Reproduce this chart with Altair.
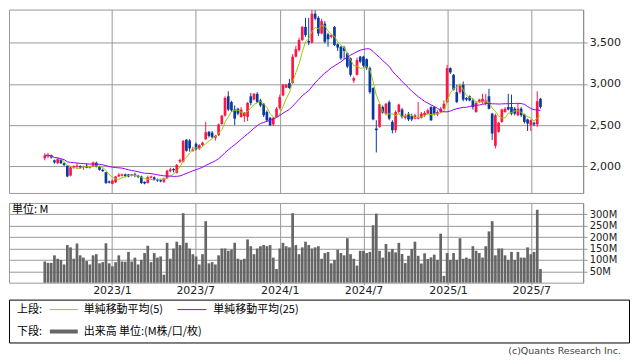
import altair as alt
import pandas as pd

# ---------------- data (weekly candles) ----------------
first_week = "2022-08-08"

opens = [2100,2120,2140,2075,2040,2085,2040,2010,1890,1985,
         1995,2005,1990,2010,1985,2000,2045,2000,1960,1930,
         1820,1790,1810,1880,1890,1905,1905,1890,1905,1890,
         1880,1815,1800,1865,1870,1845,1835,1815,1860,1945,
         1970,1925,2060,2060,2325,2315,2190,2275,2215,2260,
         2330,2420,2410,2345,2380,2515,2615,2850,2780,2690,
         2700,2600,2610,2600,2850,2810,2880,2800,2760,2660,
         2590,2510,2600,2710,2860,2955,3010,3010,3330,3410,
         3530,3690,3520,3500,3850,3800,3610,3730,3600,3570,
         3690,3480,3450,3440,3370,3310,3040,3110,3330,3330,
         3300,3190,2950,2460,2480,2720,2640,2780,2540,2440,
         2660,2690,2590,2640,2610,2580,2580,2590,2620,2640,
         2720,2720,2630,2660,2700,2780,3190,3110,2900,2900,
         2990,2830,2850,2800,2660,2780,2780,2760,2850,2640,
         2250,2420,2540,2660,2720,2720,2700,2620,2700,2630,
         2570,2500,2530,2510,2820]

closes = [2135,2140,2110,2050,2090,2040,2020,1880,1990,2005,
          2010,1990,2000,1985,2000,2050,2000,1960,1945,1800,
          1805,1830,1880,1900,1905,1885,1880,1905,1885,1875,
          1800,1795,1870,1880,1840,1830,1820,1855,1950,1965,
          1955,2020,2080,2310,2190,2220,2210,2210,2260,2290,
          2415,2370,2355,2370,2510,2615,2830,2690,2680,2580,
          2640,2690,2650,2770,2770,2880,2780,2740,2620,2560,
          2500,2590,2700,2840,2990,2990,2950,3330,3420,3530,
          3690,3590,3500,3850,3790,3610,3760,3510,3540,3590,
          3470,3440,3310,3400,3210,3110,3070,3290,3270,3220,
          3190,2900,2570,2440,2755,2650,2760,2580,2440,2660,
          2750,2600,2610,2570,2570,2620,2600,2640,2650,2680,
          2560,2640,2660,2700,2760,3190,3140,2930,2780,2980,
          2810,2810,2800,2720,2770,2810,2820,2800,2700,2400,
          2620,2530,2690,2700,2690,2640,2640,2700,2620,2540,
          2520,2560,2510,2790,2720]

highs = [2160,2165,2145,2085,2100,2090,2050,2015,2000,2015,
         2040,2015,2010,2040,2010,2060,2060,2010,1975,1935,
         1830,1840,1885,1920,1915,1915,1910,1910,1925,1900,
         1890,1820,1890,1890,1880,1855,1845,1865,1960,1985,
         1980,2030,2095,2320,2330,2330,2240,2290,2270,2300,
         2540,2430,2430,2385,2520,2625,2850,2910,2795,2740,
         2710,2720,2660,2780,2890,2890,2900,2820,2770,2680,
         2600,2600,2720,2870,3000,3000,3060,3360,3460,3560,
         3700,3800,3800,3895,3890,3820,3790,3760,3620,3600,
         3700,3490,3460,3460,3380,3320,3090,3320,3340,3340,
         3310,3210,2960,2560,2760,2740,2770,2800,2560,2680,
         2760,2710,2640,2660,2640,2640,2780,2660,2670,2700,
         2730,2730,2680,2720,2800,3230,3200,3120,2990,2990,
         3030,2840,2860,2830,2790,2820,2880,2880,2940,2650,
         2640,2540,2700,2720,2880,2870,2720,2760,2720,2640,
         2580,2570,2540,2910,2830]

lows = [2075,2105,2095,2035,2030,2030,2005,1870,1880,1975,
        1970,1975,1960,1980,1975,1995,1990,1950,1935,1790,
        1795,1785,1800,1870,1880,1870,1870,1880,1870,1860,
        1790,1785,1795,1855,1830,1815,1810,1800,1850,1930,
        1930,1915,2040,2050,2180,2180,2180,2195,2200,2250,
        2320,2350,2340,2315,2370,2505,2605,2670,2660,2500,
        2620,2590,2540,2550,2740,2800,2770,2720,2600,2540,
        2490,2490,2590,2690,2850,2950,2940,3000,3320,3390,
        3520,3570,3470,3490,3770,3580,3600,3490,3450,3550,
        3460,3400,3290,3300,3190,3090,3010,3100,3250,3200,
        3170,2880,2560,2170,2470,2640,2620,2560,2400,2410,
        2640,2580,2570,2550,2550,2570,2570,2580,2600,2630,
        2550,2620,2610,2650,2690,2770,3120,2920,2770,2880,
        2790,2790,2790,2690,2650,2770,2760,2740,2690,2320,
        2220,2410,2530,2650,2680,2620,2620,2610,2600,2520,
        2430,2430,2490,2480,2700]

volumes = [93,87,87,120,105,100,80,165,155,105,
           172,120,110,95,80,120,125,85,90,173,
           85,72,90,120,93,92,135,93,110,80,
           100,130,162,90,130,110,115,35,175,105,
           150,180,165,305,175,150,125,115,80,125,
           270,85,90,80,120,150,150,140,145,175,
           105,100,105,190,160,125,150,160,165,160,
           165,110,60,150,175,160,155,305,165,125,
           155,180,165,150,155,160,105,130,135,85,
           100,145,130,120,195,125,105,75,140,140,
           130,135,252,303,140,110,170,136,148,133,
           175,126,86,118,148,180,118,84,129,104,
           111,123,100,215,30,130,100,130,100,195,
           105,110,105,160,140,130,110,160,225,270,
           120,150,150,120,100,135,100,135,110,110,
           155,125,135,320,60]

price_ticks = [2000, 2500, 3000, 3500]
volume_ticks = [50, 100, 150, 200, 250, 300]
month_lines = [(2023, 1), (2023, 7), (2024, 1), (2024, 7), (2025, 1), (2025, 7)]

legend_top = ["上段:", "単純移動平均(5)", "単純移動平均(25)"]
legend_bottom = ["下段:", "出来高 単位:(M株/口/枚)"]
unit_label = "単位: M"
copyright_label = "(c)Quants Research Inc."

# ---------------- build ----------------
dates = pd.date_range(first_week, periods=len(closes), freq="7D")
df = pd.DataFrame({"date": dates, "open": opens, "high": highs, "low": lows,
                   "close": closes, "volume": volumes})
df["dir"] = ["up" if c >= o else "down" for o, c in zip(opens, closes)]

RED = "#ff1744"
BLUE = "#0a3a9e"
GREEN = "#99cc00"
PURPLE = "#9900ff"
GRID = "#999999"
LATIN = "DejaVu Sans"
JP = "Noto Sans CJK JP"

grid_vals = [alt.DateTime(year=y, month=m, date=1) for y, m in month_lines]
xscale = alt.Scale(domain=[alt.DateTime(year=2022, month=6, date=2),
                           alt.DateTime(year=2025, month=10, date=11)])
yscale = alt.Scale(domain=[1680, 3900], zero=False, nice=False)
color = alt.Color("dir:N", scale=alt.Scale(domain=["up", "down"], range=[RED, BLUE]), legend=None)

x_top = alt.X("date:T", scale=xscale, title=None,
              axis=alt.Axis(values=grid_vals, labels=False, ticks=False, domain=False, grid=True))

base = alt.Chart(df).encode(x=x_top)

wick = base.mark_rule(strokeWidth=1).encode(
    y=alt.Y("low:Q", scale=yscale, title=None,
            axis=alt.Axis(orient="right", values=price_ticks, format=",.0f", grid=True,
                          tickSize=4, labelPadding=2)),
    y2="high:Q", color=color)
body = base.mark_bar(size=2.7).encode(y=alt.Y("open:Q", scale=yscale, title=None),
                                      y2="close:Q", color=color)
ma5 = base.transform_window(ma5="mean(close)", frame=[-4, 0], sort=[alt.SortField("date")]) \
    .mark_line(color=GREEN, strokeWidth=1).encode(y=alt.Y("ma5:Q", scale=yscale, title=None))
ma25 = base.transform_window(ma25="mean(close)", frame=[-24, 0], sort=[alt.SortField("date")]) \
    .mark_line(color=PURPLE, strokeWidth=1).encode(y=alt.Y("ma25:Q", scale=yscale, title=None))

upper = alt.layer(wick, body, ma5, ma25).properties(width=576, height=184)

vol_bars = alt.Chart(df).mark_bar(size=2.7, color="#666666").encode(
    x=alt.X("date:T", scale=xscale, title=None,
            axis=alt.Axis(values=grid_vals, format="%Y/%-m", grid=True, domain=False,
                          tickSize=2, labelPadding=0)),
    y=alt.Y("volume:Q", scale=alt.Scale(domain=[0, 350], nice=False), title=None,
            axis=alt.Axis(orient="right", values=volume_ticks, labelExpr="datum.value + 'M'",
                          grid=True, tickSize=4, labelPadding=2, labelFontSize=10)))
unit_text = alt.Chart(pd.DataFrame({"t": [unit_label]})).mark_text(
    align="left", baseline="middle", font=JP, fontSize=11, color="#000").encode(
    text="t:N", x=alt.value(3), y=alt.value(7))
volume_panel = alt.layer(vol_bars, unit_text).properties(width=576, height=80)


def txt(s, x, y, **kw):
    return alt.Chart(pd.DataFrame({"t": [s]})).mark_text(
        baseline="middle", **kw).encode(text="t:N", x=alt.value(x), y=alt.value(y))


def seg(x1, x2, y, col, w):
    return alt.Chart(pd.DataFrame({"t": [0]})).mark_rule(color=col, strokeWidth=w).encode(
        x=alt.value(x1), x2=alt.value(x2), y=alt.value(y))


jp = dict(align="left", font=JP, fontSize=11, color="#000")
legend_panel = alt.layer(
    txt(legend_top[0], 8, 10, **jp),
    seg(41, 69, 10, GREEN, 1),
    txt(legend_top[1], 75, 10, **jp),
    seg(169, 198, 10, PURPLE, 1),
    txt(legend_top[2], 205, 10, **jp),
    txt(legend_bottom[0], 8, 32, **jp),
    seg(41, 69, 32, "#666666", 4),
    txt(legend_bottom[1], 75, 32, **jp),
    txt(copyright_label, 614, 52, align="right", font=LATIN, fontSize=9.5, color="#444"),
).properties(width=622, height=43, view=alt.ViewBackground(stroke="#000", strokeWidth=1))

chart = alt.vconcat(
    alt.vconcat(upper, volume_panel, spacing=8),
    legend_panel, spacing=2
).properties(
    padding={"left": 0, "top": 0, "right": 0, "bottom": 0}
).configure_view(
    stroke=GRID, strokeWidth=1
).configure_axis(
    gridColor=GRID, gridWidth=1, gridOpacity=1, tickColor=GRID,
    labelFont=LATIN, labelFontSize=11, labelColor="#222"
).configure_concat(spacing=0)

chart.save("out.html", embed_options={"renderer": "svg", "actions": False})
